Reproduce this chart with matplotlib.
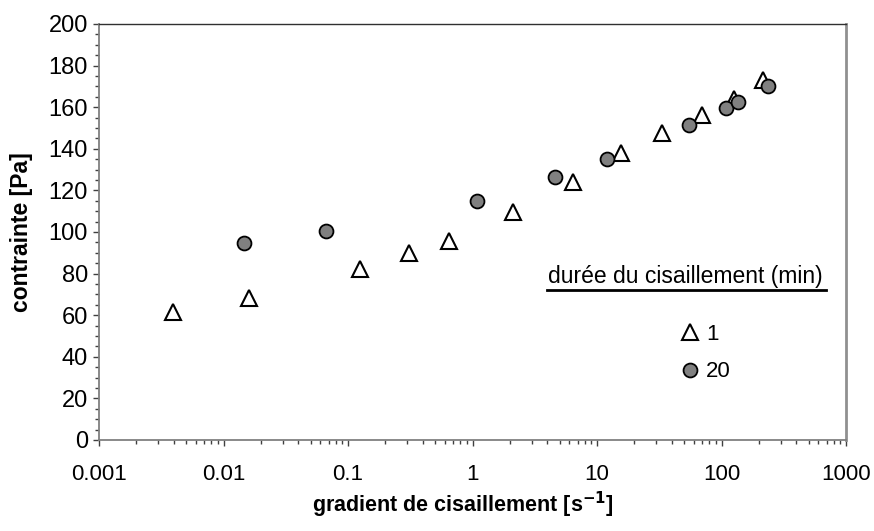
import matplotlib
matplotlib.use('Agg')
import matplotlib.pyplot as plt
from matplotlib.ticker import LogLocator, MultipleLocator, FixedFormatter, NullFormatter
from matplotlib.lines import Line2D

# -------------------------
# DATA
# -------------------------

# durée du cisaillement = 1 min (triangles)
gradient_1 = [0.0039, 0.016, 0.125, 0.31, 0.65, 2.1, 6.4, 15.6, 33, 70, 126, 215]
contrainte_1 = [61.5, 68.3, 82.2, 89.9, 95.7, 109.6, 124, 138, 147.6, 156.2, 164, 173]

# durée du cisaillement = 20 min (cercles)
gradient_20 = [0.0146, 0.067, 1.09, 4.6, 12.0, 55, 109, 136, 236]
contrainte_20 = [94.7, 100.5, 115, 126.4, 135, 151.4, 159.6, 162.5, 170.2]

legend_labels = ['1', '20']
xtick_values = [0.001, 0.01, 0.1, 1, 10, 100, 1000]
xtick_labels = ['0.001', '0.01', '0.1', '1', '10', '100', '1000']

# -------------------------
# FIGURE
# -------------------------

plt.rcParams['font.family'] = ['Liberation Sans', 'DejaVu Sans']

W, H = 874, 531
fig = plt.figure(figsize=(W / 100, H / 100), dpi=100)
ax = fig.add_axes([99 / W, 1 - 440 / H, 747 / W, 416 / H])

tri, = ax.plot(gradient_1, contrainte_1, linestyle='none', marker='^',
               markersize=11, markerfacecolor='white', markeredgecolor='black',
               markeredgewidth=1.5, zorder=3)
circ, = ax.plot(gradient_20, contrainte_20, linestyle='none', marker='o',
                markersize=10, markerfacecolor='#808080', markeredgecolor='black',
                markeredgewidth=1.3, zorder=4)

# -------------------------
# AXES
# -------------------------

ax.set_xscale('log')
ax.set_xlim(0.001, 1000)
ax.set_ylim(0, 200)

ax.set_xticks(xtick_values)
ax.xaxis.set_major_formatter(FixedFormatter(xtick_labels))
ax.xaxis.set_minor_locator(LogLocator(base=10, subs=range(2, 10), numticks=20))
ax.xaxis.set_minor_formatter(NullFormatter())

ax.yaxis.set_major_locator(MultipleLocator(20))
ax.yaxis.set_minor_locator(MultipleLocator(5))

ax.tick_params(axis='both', which='major', direction='out', length=4.5,
               width=1, color='#404040')
ax.tick_params(axis='both', which='minor', direction='out', length=3,
               width=1, color='#404040')
ax.tick_params(axis='y', which='major', labelsize=17, pad=3.5)
ax.tick_params(axis='x', which='major', labelsize=16, pad=13)

for side in ['left', 'bottom']:
    ax.spines[side].set_color('#808080')
    ax.spines[side].set_linewidth(1.3)
ax.spines['right'].set_color('#909090')
ax.spines['right'].set_linewidth(2)
ax.spines['top'].set_color('#303030')
ax.spines['top'].set_linewidth(1)

ax.set_ylabel('contrainte [Pa]', fontsize=16.5, fontweight='bold', labelpad=11)
ax.set_xlabel('gradient de cisaillement [s$^{\\mathbf{-1}}$]', fontsize=15.5,
              fontweight='bold')
ax.xaxis.set_label_coords((463 - 99) / 747, -(520 - 440) / 416)
ax.xaxis.label.set_va('bottom')

# -------------------------
# LEGEND
# -------------------------

ax.text((548 - 99) / 747, (440 - 288) / 416, 'durée du cisaillement (min)',
        transform=ax.transAxes, fontsize=16.5, ha='left', va='bottom')
ax.add_line(Line2D([(547 - 99) / 747, (826 - 99) / 747],
                   [(440 - 290) / 416] * 2, transform=ax.transAxes,
                   color='black', linewidth=2))

ax.legend([tri, circ], legend_labels, loc='center left',
          bbox_to_anchor=((668 - 99) / 747, (440 - 353) / 416),
          frameon=False, fontsize=16, handlelength=1.0,
          handletextpad=0.2, labelspacing=0.75, borderpad=0)

fig.savefig('out.png', dpi=100)
